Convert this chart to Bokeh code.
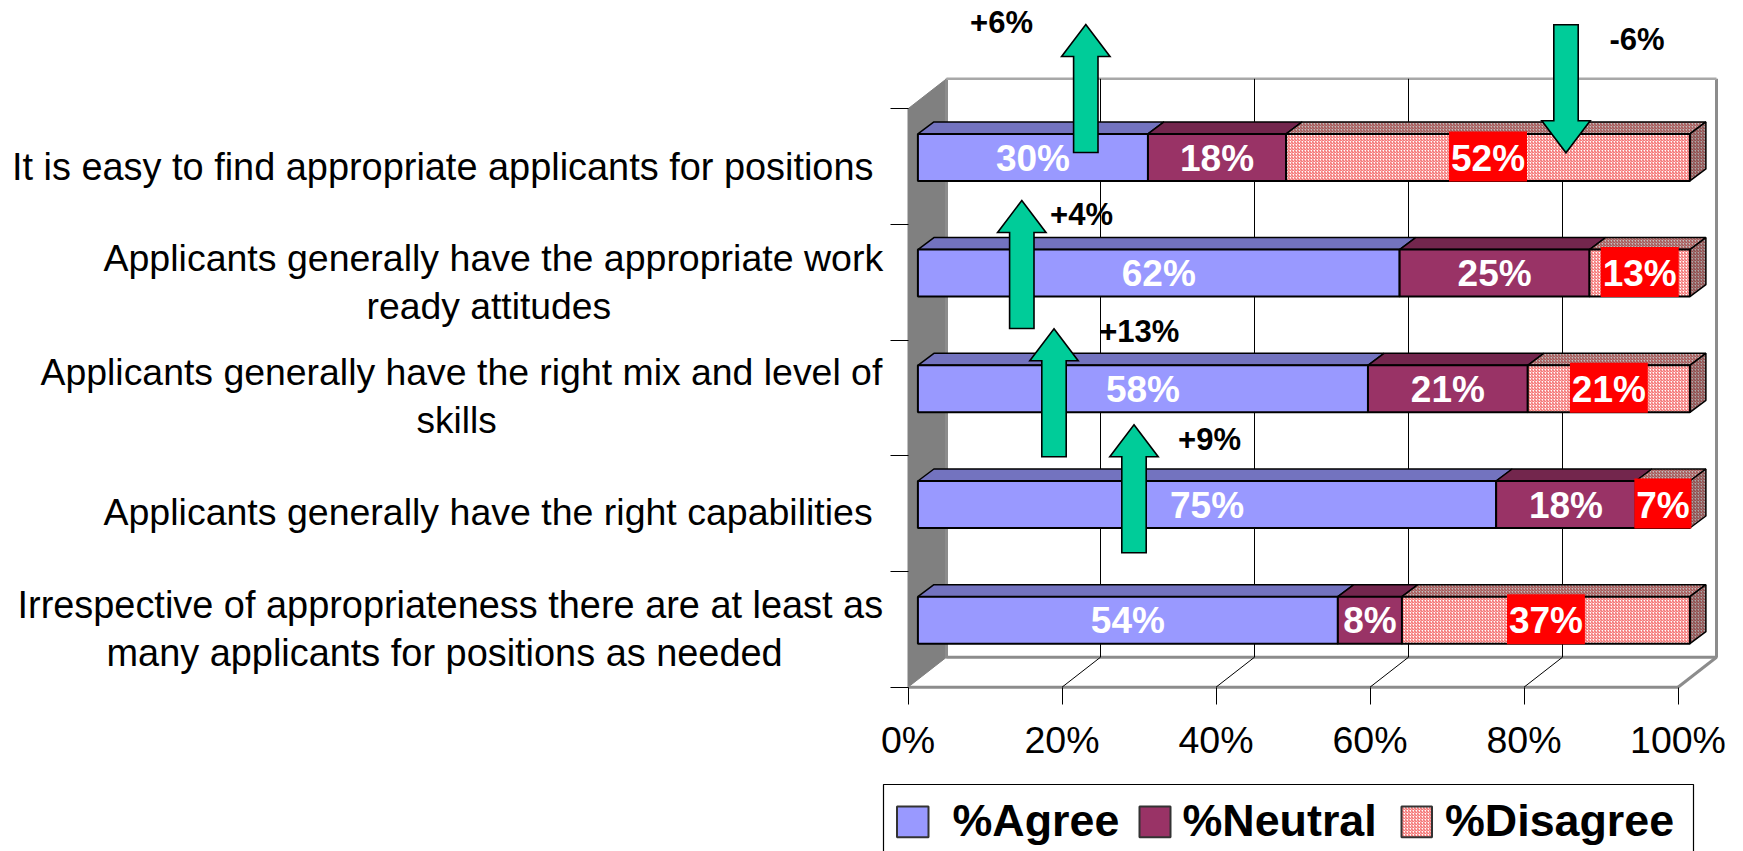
from bokeh.plotting import figure
from bokeh.models import LinearAxis, FixedTicker, PrintfTickFormatter, Range1d
from bokeh.core.properties import value
from bokeh.embed import file_html
from bokeh.resources import INLINE

# ---------- data ----------
CATEGORIES = [
    ["It is easy to find appropriate applicants for positions"],
    ["Applicants generally have the appropriate work", "ready attitudes"],
    ["Applicants generally have the right mix and level of", "skills"],
    ["Applicants generally have the right capabilities"],
    ["Irrespective of appropriateness there are at least as", "many applicants for positions as needed"],
]
AGREE = [29.8, 62.4, 58.3, 74.9, 54.4]
NEUTRAL = [17.9, 24.6, 20.7, 18.1, 8.3]
DISAGREE = [52.3, 13.0, 21.0, 7.0, 37.3]
SERIES_NAMES = ["%Agree", "%Neutral", "%Disagree"]
X_TICKS = [0, 20, 40, 60, 80, 100]
CHANGE_LABELS = ["+6%", "-6%", "+4%", "+13%", "+9%"]

# ---------- layout (page pixels) ----------
W, H = 1743, 851
X0, PXPCT = 907.5, 7.7
Y0, PXBAND = 686.7, 115.68
def X(px): return (px - X0) / PXPCT
def Y(py): return (Y0 - py) / PXBAND
def BASE(py, size): return Y(py - BASE_K * size)
BASE_K = 0.32
DX_W, DY_W = 5.0, 30 / PXBAND
DX_B, DY_B = 16 / PXPCT, 12 / PXBAND
BAR_OFF, BAR_SCALE = 9.9 / PXPCT, 772 / 770
BAR_H = 47 / PXBAND
BAR_SHIFT = 9.2 / PXBAND
FONT = value("Liberation Sans")

p = figure(width=W, height=H, x_axis_type=None, y_axis_type=None, toolbar_location=None,
           output_backend="svg", min_border=0, outline_line_color=None,
           x_range=Range1d(X(0), X(W)), y_range=Range1d(Y(H), Y(0)),
           background_fill_color="white", border_fill_color="white")
p.grid.visible = False

# walls and floor
TOP = 5 + DY_W
p.patch([0, DX_W, DX_W, 0], [0, DY_W, TOP, 5], fill_color="#808080", line_color="#808080")
p.multi_line([[DX_W, DX_W, 100 + DX_W, 100 + DX_W], [0, 100], [100, 100 + DX_W]],
             [[TOP, DY_W, DY_W, TOP], [0, 0], [0, DY_W]],
             line_color="#8c8c8c", line_width=3)
p.line([DX_W, 100 + DX_W], [TOP, TOP], line_color="#a8a8a8", line_width=2.5)
inner = X_TICKS[1:-1]
p.segment([t + DX_W for t in inner], [DY_W] * 4, [t + DX_W for t in inner], [TOP] * 4,
          line_color="black", line_width=1)
p.segment(inner, [0] * 4, [t + DX_W for t in inner], [DY_W] * 4, line_color="black", line_width=1)

# axes
xax = LinearAxis(fixed_location=0, ticker=FixedTicker(ticks=X_TICKS),
                 formatter=PrintfTickFormatter(format="%d%%"),
                 major_tick_in=0, major_tick_out=17, minor_tick_line_color=None,
                 major_tick_line_color="black", axis_line_color=None,
                 major_label_text_font="Liberation Sans", major_label_text_font_size="37.5px",
                 major_label_standoff=15, major_label_text_color="black")
p.add_layout(xax, "below")
yax = LinearAxis(fixed_location=0, ticker=FixedTicker(ticks=[0, 1, 2, 3, 4, 5]),
                 major_tick_in=0, major_tick_out=18, minor_tick_line_color=None,
                 major_tick_line_color="black", axis_line_color=None,
                 major_label_text_color=None, major_label_text_font_size="1px")
p.add_layout(yax, "left")

# bars
HATCH = dict(hatch_pattern="right_diagonal_line", hatch_scale=3, hatch_weight=0.9)
STYLES = [
    (dict(fill_color="#9999FF"), dict(fill_color="#7373BF")),
    (dict(fill_color="#993366"), dict(fill_color="#73264D")),
    (dict(fill_color="#FFFFFF", hatch_color="#F04040", **HATCH),
     dict(fill_color="#BFBFBF", hatch_color="#A03030", **HATCH)),
]
n = len(AGREE)
for i in range(n):
    row = [AGREE[i], NEUTRAL[i], DISAGREE[i]]
    total = sum(row)
    yc = (n - 1 - i) + 0.5 + BAR_SHIFT
    bot, top = yc - BAR_H / 2, yc + BAR_H / 2
    left = 0.0
    for j, v in enumerate(row):
        a = BAR_OFF + left * BAR_SCALE
        b = BAR_OFF + (left + v / total * 100) * BAR_SCALE
        front, upper = STYLES[j]
        p.patch([a, b, b + DX_B, a + DX_B], [top, top, top + DY_B, top + DY_B],
                line_color="black", line_width=1.5, **upper)
        if j == 2:
            p.patch([b, b + DX_B, b + DX_B, b], [bot, bot + DY_B, top + DY_B, top],
                    line_color="black", line_width=1.5,
                    fill_color="#A8A8A8", hatch_color="#8A2A2A", **HATCH)
        p.quad(left=[a], right=[b], bottom=[bot], top=[top],
               line_color="black", line_width=2, **front)
        left += v / total * 100
    # value labels
    left = 0.0
    for j, v in enumerate(row):
        a = BAR_OFF + left * BAR_SCALE
        b = BAR_OFF + (left + v / total * 100) * BAR_SCALE
        c = (a + b) / 2
        txt = f"{round(v)}%"
        if j == 2:
            w = (78 if v >= 9.5 else 57) / PXPCT / 2
            p.quad(left=[c - w], right=[c + w], bottom=[bot - 0.5 / PXBAND], top=[top + 2.5 / PXBAND],
                   fill_color="#FF0000", line_color=None)
        py_c = Y0 - yc * PXBAND
        p.text([c], [BASE(py_c + 12.5, 37)], text=[txt], text_font=FONT, text_font_style="bold",
               text_font_size="37px", text_color="white", text_align="center",
               text_baseline="alphabetic")
        left += v / total * 100

# category labels, one text per wrapped line
CAT_LEFT = [[11.5], [103, 366], [40, 416], [103], [17, 106]]
CAT_BASE = [[179], [269, 317], [383, 431.7], [523, ], [617, 665]]
CAT_SIZE = [[37.9], [37.5, 37.3], [37.4, 37.0], [37.5], [37.9, 37.9]]
for lines, lefts, bases, sizes in zip(CATEGORIES, CAT_LEFT, CAT_BASE, CAT_SIZE):
    for line, lx, by, fs in zip(lines, lefts, bases, sizes):
        p.text([X(lx)], [BASE(by, fs)], text=[line], text_font=FONT,
               text_font_size=f"{fs}px", text_color="black", text_align="left",
               text_baseline="alphabetic")

# change arrows: tip x, tip y, direction
ARROWS = [(1085.3, 24, 1), (1565.5, 152.3, -1), (1021.3, 200, 1), (1053.5, 328.3, 1), (1133.5, 424.3, 1)]
for tx, ty, d in ARROWS:
    xs = [tx, tx + 24.2, tx + 12.2, tx + 12.2, tx - 12.2, tx - 12.2, tx - 24.2]
    ys = [ty, ty + d * 32, ty + d * 32, ty + d * 128, ty + d * 128, ty + d * 32, ty + d * 32]
    p.patch([X(v) for v in xs], [Y(v) for v in ys], fill_color="#00CC99", line_color="black",
            line_width=1.6, line_join="miter")
CHANGE_X = [1001, 1636.6, 1081, 1138.7, 1209]
CHANGE_Y = [32.3, 49, 224, 341, 449]
p.text([X(v) for v in CHANGE_X], [BASE(v, 31) for v in CHANGE_Y], text=CHANGE_LABELS, text_font=FONT,
       text_font_style="bold", text_font_size="31px", text_color="black", text_align="center",
       text_baseline="alphabetic")

# legend
p.line([X(v) for v in (883, 883, 1693, 1693)], [Y(v) for v in (870, 784, 784, 870)],
       line_color="black", line_width=1.2)
SWATCH_X = [(896.5, 928), (1139, 1170), (1401, 1431.5)]
LEGEND_X = [952, 1182, 1444.5]
for j, ((a, b), lx) in enumerate(zip(SWATCH_X, LEGEND_X)):
    p.quad(left=[X(a)], right=[X(b)], bottom=[Y(836.7)], top=[Y(806)], line_color="#333333",
           line_width=2, **STYLES[j][0])
    p.text([X(lx)], [BASE(834, 44.8)], text=[SERIES_NAMES[j]], text_font=FONT, text_font_style="bold",
           text_font_size="44.8px", text_color="black", text_align="left", text_baseline="alphabetic")

open("out.html", "w").write(file_html(p, INLINE))
